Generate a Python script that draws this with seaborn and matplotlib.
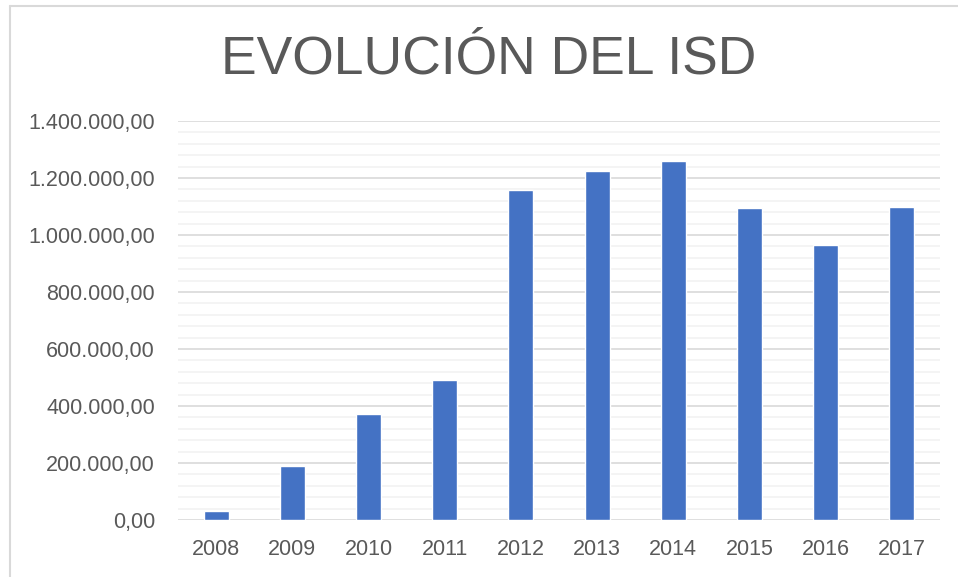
import matplotlib
matplotlib.use("Agg")
import matplotlib.pyplot as plt
import matplotlib.ticker as mticker
import seaborn as sns
import pandas as pd

# --- dades llegides del gràfic ---
anys = ["2008", "2009", "2010", "2011", "2012", "2013", "2014", "2015", "2016", "2017"]
isd = [31000, 189000, 372000, 491000, 1158000, 1225000, 1260000, 1095000, 965000, 1098000]
titol = "EVOLUCIÓN DEL ISD"

df = pd.DataFrame({"Any": anys, "ISD": isd})

sns.set_theme(style="white")
plt.rcParams["font.family"] = ["Liberation Sans", "DejaVu Sans"]

fig = plt.figure(figsize=(9.58, 5.77), dpi=100)
ax = fig.add_axes([178 / 958, 57 / 577, (940 - 178) / 958, (520 - 121) / 577])

sns.barplot(data=df, x="Any", y="ISD", color="#4472C4", saturation=1,
            width=0.33, ax=ax, zorder=3)

ax.set_ylim(0, 1400000)
ax.set_xlim(-0.5, len(anys) - 0.5)
ax.yaxis.set_major_locator(mticker.MultipleLocator(200000))
ax.yaxis.set_minor_locator(mticker.MultipleLocator(40000))


def fmt_es(v, pos):
    s = f"{v:,.2f}"
    return s.replace(",", "X").replace(".", ",").replace("X", ".")


ax.yaxis.set_major_formatter(mticker.FuncFormatter(fmt_es))
ax.grid(True, which="major", axis="y", color="#d9d9d9", linewidth=1.2, zorder=0)
ax.grid(True, which="minor", axis="y", color="#f2f2f2", linewidth=1.2, zorder=0)
ax.tick_params(axis="both", which="both", length=0, labelsize=15.5, labelcolor="#595959")
ax.tick_params(axis="y", pad=16.5)
ax.tick_params(axis="x", pad=14)
for sp in ax.spines.values():
    sp.set_visible(False)
ax.set_xlabel("")
ax.set_ylabel("")

fig.text(489 / 958, 1 - 59 / 577, titol, ha="center", va="center",
         fontsize=38.5, color="#595959")

# vora del gràfic (només esquerra i dalt visibles)
fig.add_artist(plt.Line2D([10 / 958, 10 / 958], [0, 1 - 6 / 577], color="#d9d9d9", linewidth=1.5))
fig.add_artist(plt.Line2D([10 / 958, 1], [1 - 6 / 577, 1 - 6 / 577], color="#d9d9d9", linewidth=1.5))

fig.savefig("out.png", dpi=100)
